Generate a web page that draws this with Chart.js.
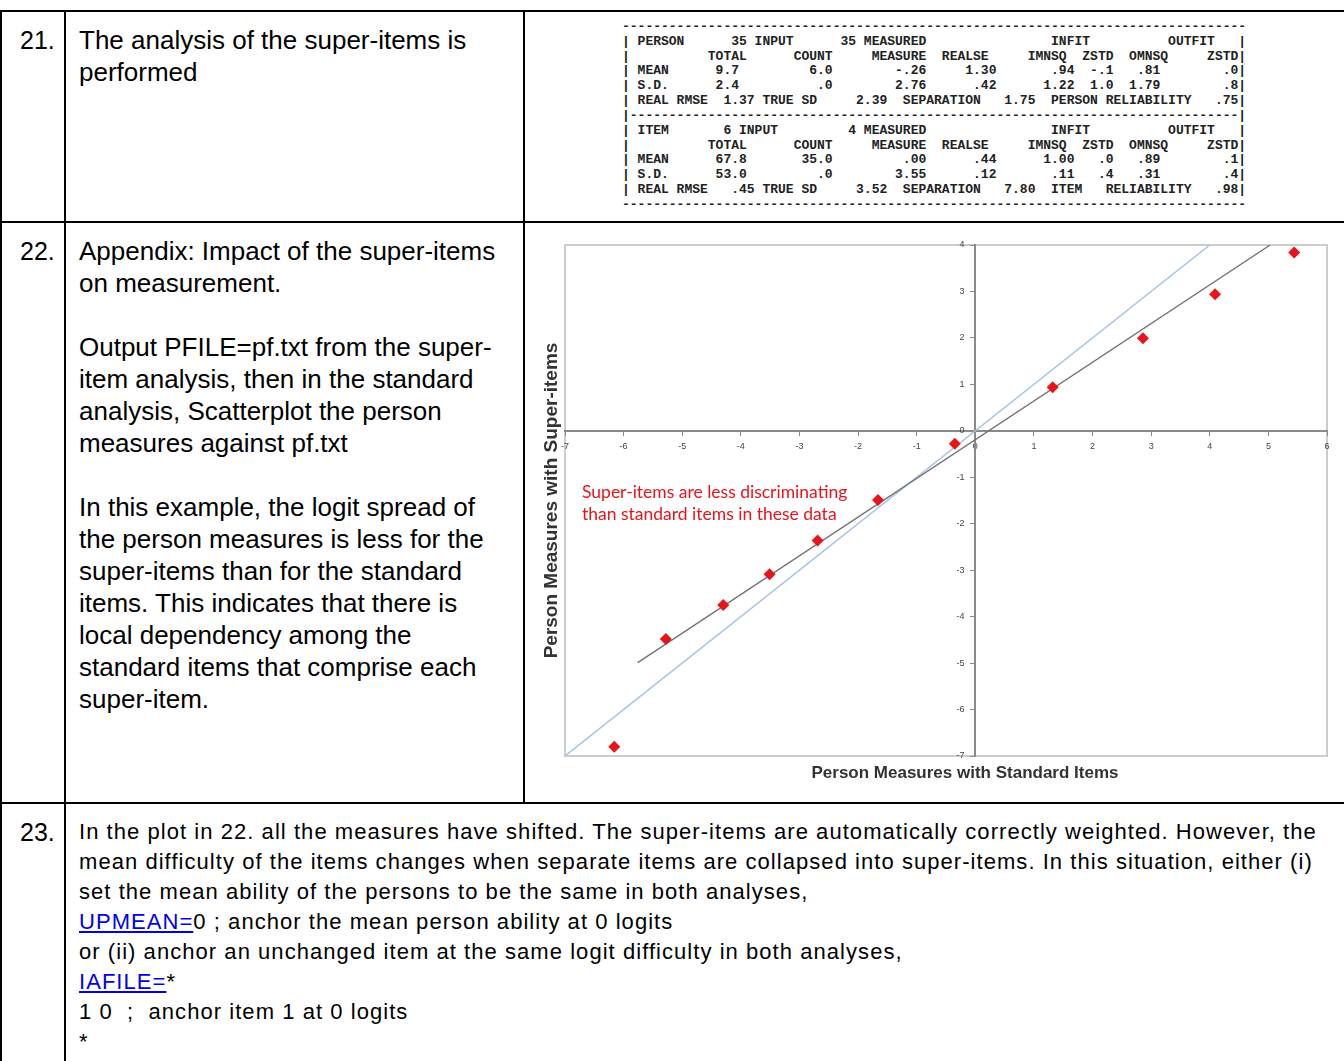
<!DOCTYPE html>
<html>
<head>
<meta charset="utf-8">
<script src="https://cdn.jsdelivr.net/npm/chart.js@4.4.1/dist/chart.umd.min.js"></script>
<style>
  html, body { margin: 0; padding: 0; background: #fff; overflow: hidden; }
  body { width: 1344px; height: 1061px; position: relative; font-family: "Liberation Sans", Arial, sans-serif; color: #000; }
  .h { position: absolute; left: 0; width: 1344px; height: 2px; background: #000; }
  .v { position: absolute; width: 2px; background: #000; }
  .t { position: absolute; white-space: nowrap; font-size: 26px; line-height: 32px; }
  .num { font-size: 25px; }
  .small { font-size: 22px; line-height: 30px; letter-spacing: 1.05px; }
  .stats { position: absolute; left: 622px; top: 20px; margin: 0; font: bold 13px/14.83px "Liberation Mono", "DejaVu Sans Mono", monospace; color: #222; white-space: pre; }
  a { color: #0000ee; text-decoration: underline; }
  #chartBox { position: absolute; left: 540px; top: 232px; width: 797px; height: 554px; }
  .xtitle { position: absolute; left: 765px; width: 400px; top: 763px; text-align: center; font: bold 17px/20px "Liberation Sans", Arial, sans-serif; color: #333; }
</style>
</head>
<body>
<div class="h" style="top:10px"></div>
<div class="h" style="top:221px"></div>
<div class="h" style="top:802px"></div>
<div class="v" style="left:0;top:10px;height:1051px"></div>
<div class="v" style="left:64px;top:10px;height:1051px"></div>
<div class="v" style="left:523px;top:10px;height:793px"></div>

<div class="t num" style="left:20px;top:24px">21.</div>
<div class="t" style="left:79px;top:24px">The analysis of the super-items is<br>performed</div>

<pre class="stats" id="stats"></pre>

<div class="t num" style="left:20px;top:235px">22.</div>
<div class="t" style="left:79px;top:235px">Appendix: Impact of the super-items<br>on measurement.<br><br>Output PFILE=pf.txt from the super-<br>item analysis, then in the standard<br>analysis, Scatterplot the person<br>measures against pf.txt<br><br>In this example, the logit spread of<br>the person measures is less for the<br>super-items than for the standard<br>items. This indicates that there is<br>local dependency among the<br>standard items that comprise each<br>super-item.</div>

<div id="chartBox"><canvas id="scatter"></canvas></div>
<div class="xtitle">Person Measures with Standard Items</div>

<div class="t num" style="left:20px;top:816px">23.</div>
<div class="t small" style="left:79px;top:817px">In the plot in 22. all the measures have shifted. The super-items are automatically correctly weighted. However, the<br>mean difficulty of the items changes when separate items are collapsed into super-items. In this situation, either (i)<br>set the mean ability of the persons to be the same in both analyses,<br><a href="#">UPMEAN=</a>0 ; anchor the mean person ability at 0 logits<br>or (ii) anchor an unchanged item at the same logit difficulty in both analyses,<br><a href="#">IAFILE=</a>*<br>1 0&nbsp; ;&nbsp; anchor item 1 at 0 logits<br>*</div>

<script>
// summary table of the super-item analysis: [column, text] tokens per row
const headerRow = [[11, "TOTAL"], [22, "COUNT"], [32, "MEASURE"], [41, "REALSE"], [52, "IMNSQ"], [59, "ZSTD"], [65, "OMNSQ"], [75, "ZSTD"]];
const personRows = [
  [[2, "PERSON"], [14, "35"], [17, "INPUT"], [28, "35"], [31, "MEASURED"], [55, "INFIT"], [70, "OUTFIT"]],
  headerRow,
  [[2, "MEAN"], [12, "9.7"], [24, "6.0"], [35, "-.26"], [44, "1.30"], [55, ".94"], [60, "-.1"], [66, ".81"], [77, ".0"]],
  [[2, "S.D."], [12, "2.4"], [25, ".0"], [35, "2.76"], [45, ".42"], [54, "1.22"], [60, "1.0"], [65, "1.79"], [77, ".8"]],
  [[2, "REAL RMSE"], [13, "1.37"], [18, "TRUE SD"], [30, "2.39"], [36, "SEPARATION"], [49, "1.75"], [55, "PERSON"], [62, "RELIABILITY"], [76, ".75"]]
];
const itemRows = [
  [[2, "ITEM"], [13, "6"], [15, "INPUT"], [29, "4"], [31, "MEASURED"], [55, "INFIT"], [70, "OUTFIT"]],
  headerRow,
  [[2, "MEAN"], [12, "67.8"], [23, "35.0"], [36, ".00"], [45, ".44"], [54, "1.00"], [61, ".0"], [66, ".89"], [77, ".1"]],
  [[2, "S.D."], [12, "53.0"], [25, ".0"], [35, "3.55"], [45, ".12"], [55, ".11"], [61, ".4"], [66, ".31"], [77, ".4"]],
  [[2, "REAL RMSE"], [14, ".45"], [18, "TRUE SD"], [30, "3.52"], [36, "SEPARATION"], [49, "7.80"], [55, "ITEM"], [62, "RELIABILITY"], [76, ".98"]]
];

function statLine(tokens) {
  const chars = Array(80).fill(" ");
  chars[0] = "|";
  chars[79] = "|";
  tokens.forEach(([col, text]) => { for (let i = 0; i < text.length; i++) chars[col + i] = text[i]; });
  return chars.join("");
}
const dashes = "-".repeat(80);
const statText = [dashes]
  .concat(personRows.map(statLine))
  .concat(["|" + "-".repeat(78) + "|"])
  .concat(itemRows.map(statLine))
  .concat([dashes]);
document.getElementById("stats").textContent = statText.join("\n");

// person measures: standard analysis (x) vs super-item analysis (y)
const standardMeasures = [-6.16, -5.28, -4.30, -3.51, -2.69, -1.66, -0.35, 1.32, 2.86, 4.09, 5.44];
const superItemMeasures = [-6.80, -4.48, -3.75, -3.09, -2.36, -1.49, -0.28, 0.94, 1.99, 2.94, 3.84];

// identity line and fitted trend line end points
const identityX = [-7, 4];
const identityY = [-7, 4];
const trendX = [-5.76, 5.03];
const trendY = [-4.99, 4.0];

const xRange = [-7, 6];
const yRange = [-7, 4];

const noteLines = ["Super-items are less discriminating", "than standard items in these data"];
const noteAt = { x: -6.71, y: -1.44 };

const toPoints = (xs, ys) => xs.map((x, i) => ({ x, y: ys[i] }));

const plotFramePlugin = {
  id: "plotFrame",
  beforeDraw(chart) {
    const { ctx, chartArea: a } = chart;
    ctx.save();
    ctx.strokeStyle = "#cccccc";
    ctx.lineWidth = 2;
    ctx.strokeRect(a.left, a.top, a.right - a.left, a.bottom - a.top);
    ctx.restore();
  },
  afterDatasetsDraw(chart) {
    const { ctx } = chart;
    const x = chart.scales.x.getPixelForValue(noteAt.x);
    const y = chart.scales.y.getPixelForValue(noteAt.y);
    ctx.save();
    ctx.font = "17.5px Lato, 'Open Sans', sans-serif";
    ctx.fillStyle = "#e8141b";
    ctx.textBaseline = "alphabetic";
    noteLines.forEach((line, i) => ctx.fillText(line, x, y + i * 22));
    ctx.restore();
  }
};

const tickFont = { family: "Liberation Sans", size: 9 };

new Chart(document.getElementById("scatter").getContext("2d"), {
  type: "scatter",
  data: {
    datasets: [
      {
        label: "Persons",
        data: toPoints(standardMeasures, superItemMeasures),
        pointStyle: "rectRot",
        pointRadius: 6,
        pointBackgroundColor: "#e8141b",
        pointBorderColor: "#e8141b",
        pointBorderWidth: 0
      },
      {
        label: "Trend",
        type: "line",
        data: toPoints(trendX, trendY),
        borderColor: "#707070",
        borderWidth: 1.3,
        pointRadius: 0
      },
      {
        label: "Identity",
        type: "line",
        data: toPoints(identityX, identityY),
        borderColor: "#a8c4e2",
        borderWidth: 1.5,
        pointRadius: 0
      }
    ]
  },
  options: {
    responsive: true,
    maintainAspectRatio: false,
    animation: false,
    layout: { padding: { left: 0, right: 10, top: 13, bottom: 30 } },
    plugins: {
      legend: { display: false },
      tooltip: { enabled: false },
      title: {
        display: true,
        position: "left",
        text: "Person Measures with Super-items",
        color: "#333",
        font: { family: "Liberation Sans", size: 19, weight: "bold" },
        padding: { top: 0, bottom: 2.2 }
      }
    },
    scales: {
      x: {
        type: "linear",
        position: { y: 0 },
        min: xRange[0],
        max: xRange[1],
        ticks: { stepSize: 1, font: tickFont, color: "#444", padding: 6 },
        grid: { drawOnChartArea: false, tickLength: 4, color: "#8a8a8a" },
        border: { color: "#8a8a8a", width: 2 }
      },
      y: {
        type: "linear",
        position: { x: 0 },
        min: yRange[0],
        max: yRange[1],
        // a centred axis ignores ticks.padding, so keep labels off the line with a gap
        ticks: { stepSize: 1, font: tickFont, color: "#444", callback: (v) => v + "\u2002\u2002\u2009" },
        grid: { drawOnChartArea: false, tickLength: 4, color: "#8a8a8a" },
        border: { color: "#8a8a8a", width: 2 }
      }
    }
  },
  plugins: [plotFramePlugin]
});
</script>
</body>
</html>
